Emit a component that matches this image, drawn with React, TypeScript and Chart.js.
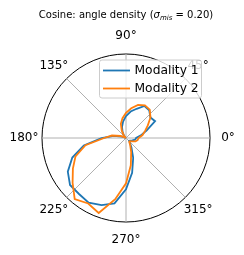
import React, { useEffect, useRef } from "react";
import { Chart, registerables } from "chart.js";

Chart.register(...registerables);

// angles of the density bins (degrees, counter-clockwise from east)
const binAngles: number[] = [
  0, 10, 20, 30, 40, 50, 60, 70, 80, 90, 100, 110, 120, 130, 140, 150, 160, 170,
  180, 190, 200, 210, 220, 230, 240, 250, 260, 270, 280, 290, 300, 310, 320, 330, 340, 350,
];

const modality1: number[] = [
  0.12, 0.18, 0.26, 0.40, 0.38, 0.43, 0.44, 0.37, 0.32, 0.26, 0.20, 0.14, 0.08, 0.04, 0.01, 0.01, 0.05, 0.15,
  0.29, 0.51, 0.68, 0.80, 0.87, 0.87, 0.89, 0.85, 0.79, 0.61, 0.42, 0.25, 0.13, 0.07, 0.05, 0.06, 0.08, 0.11,
];

const modality2: number[] = [
  0.15, 0.20, 0.24, 0.30, 0.38, 0.44, 0.45, 0.42, 0.36, 0.30, 0.24, 0.18, 0.10, 0.04, 0.01, 0.01, 0.07, 0.17,
  0.26, 0.49, 0.64, 0.73, 0.83, 0.95, 0.90, 0.95, 0.74, 0.54, 0.33, 0.18, 0.10, 0.06, 0.06, 0.08, 0.12, 0.14,
];

const tickAngles: number[] = [0, 45, 90, 135, 180, 225, 270, 315];
const tickLabels: string[] = ["0°", "45°", "90°", "135°", "180°", "225°", "270°", "315°"];

const seriesNames: string[] = ["Modality 1", "Modality 2"];
const seriesColors: string[] = ["#1f77b4", "#ff7f0e"];

const STEP = 5; // angular resolution of the radar slots
const SLOTS = 360 / STEP;

function slotAngle(i: number): number {
  return (360 - i * STEP) % 360;
}
function slotOf(theta: number): number {
  return ((360 - theta) % 360) / STEP;
}

const FONT = "'DejaVu Sans', sans-serif";

export default function App() {
  const ref = useRef<HTMLCanvasElement | null>(null);

  useEffect(() => {
    if (!ref.current) return;
    const labels = Array.from({ length: SLOTS }, (_, i) => String(slotAngle(i)));
    const build = (vals: number[]) =>
      Array.from({ length: SLOTS }, (_, i) => {
        const th = slotAngle(i);
        const k = binAngles.indexOf(th);
        return k >= 0 ? vals[k] : null;
      });

    const overlay = {
      id: "overlay",
      afterDraw(chart: any) {
        const ctx = chart.ctx as CanvasRenderingContext2D;
        const scale = chart.scales.r;
        ctx.save();
        // angle tick labels
        ctx.fillStyle = "#000";
        ctx.font = `12px ${FONT}`;
        ctx.textAlign = "center";
        ctx.textBaseline = "middle";
        tickAngles.forEach((th, j) => {
          const p = scale.getPointPosition(slotOf(th), scale.drawingArea + 18);
          ctx.fillText(tickLabels[j], p.x, p.y);
        });

        // title
        const cx = 126;
        const ty = 14;
        const parts = [
          { t: "Cosine: angle density (", f: `10px ${FONT}`, dy: 0 },
          { t: "σ", f: `italic 10px ${FONT}`, dy: 0 },
          { t: "mis", f: `italic 7px ${FONT}`, dy: 2 },
          { t: " = ", f: `10px ${FONT}`, dy: 0 },
          { t: "0.20)", f: `10px ${FONT}`, dy: 0 },
        ];
        let total = 0;
        const widths = parts.map((p) => {
          ctx.font = p.f;
          const w = ctx.measureText(p.t).width;
          total += w;
          return w;
        });
        let x = cx - total / 2;
        ctx.textAlign = "left";
        ctx.textBaseline = "alphabetic";
        parts.forEach((p, i) => {
          ctx.font = p.f;
          ctx.fillText(p.t, x, ty + 4 + p.dy);
          x += widths[i];
        });

        // legend
        const lx = 99.5, ly = 60, lw = 102, lh = 38;
        ctx.beginPath();
        ctx.roundRect(lx, ly, lw, lh, 2.5);
        ctx.fillStyle = "rgba(255,255,255,0.8)";
        ctx.fill();
        ctx.strokeStyle = "#cccccc";
        ctx.lineWidth = 1;
        ctx.stroke();
        ctx.font = `12.3px ${FONT}`;
        ctx.textBaseline = "middle";
        seriesNames.forEach((name, i) => {
          const y = 70.5 + i * 18;
          ctx.beginPath();
          ctx.moveTo(103, y);
          ctx.lineTo(130, y);
          ctx.strokeStyle = seriesColors[i];
          ctx.lineWidth = 1.8;
          ctx.stroke();
          ctx.fillStyle = "#000";
          ctx.fillText(name, 134.5, y + 0.5);
        });
        ctx.restore();
      },
    };

    const chart = new Chart(ref.current, {
      type: "radar",
      data: {
        labels,
        datasets: [
          {
            label: seriesNames[0],
            data: build(modality1),
            borderColor: seriesColors[0],
            borderWidth: 1.8,
            pointRadius: 0,
            fill: false,
            spanGaps: true,
            tension: 0,
            order: 2,
          },
          {
            label: seriesNames[1],
            data: build(modality2),
            borderColor: seriesColors[1],
            borderWidth: 1.8,
            pointRadius: 0,
            fill: false,
            spanGaps: true,
            tension: 0,
            order: 1,
          },
        ],
      },
      options: {
        animation: false,
        responsive: false,
        maintainAspectRatio: false,
        layout: { padding: { left: 42, right: 34, top: 54, bottom: 33 } },
        plugins: { legend: { display: false }, title: { display: false }, tooltip: { enabled: false } },
        scales: {
          r: {
            min: 0,
            max: 1,
            startAngle: 90,
            ticks: { display: false, stepSize: 1 },
            grid: { circular: true, color: "#000000", lineWidth: 1 },
            angleLines: {
              display: true,
              color: (c: any) => (c.index % (45 / STEP) === 0 ? "#b0b0b0" : "rgba(0,0,0,0)"),
              lineWidth: 1,
            },
            pointLabels: { display: false },
          },
        },
      },
      plugins: [overlay],
    });
    return () => chart.destroy();
  }, []);

  return (
    <div style={{ position: "absolute", left: 0, top: 0, width: 244, height: 255 }}>
      <canvas ref={ref} width={244} height={255} style={{ width: 244, height: 255 }} />
    </div>
  );
}
